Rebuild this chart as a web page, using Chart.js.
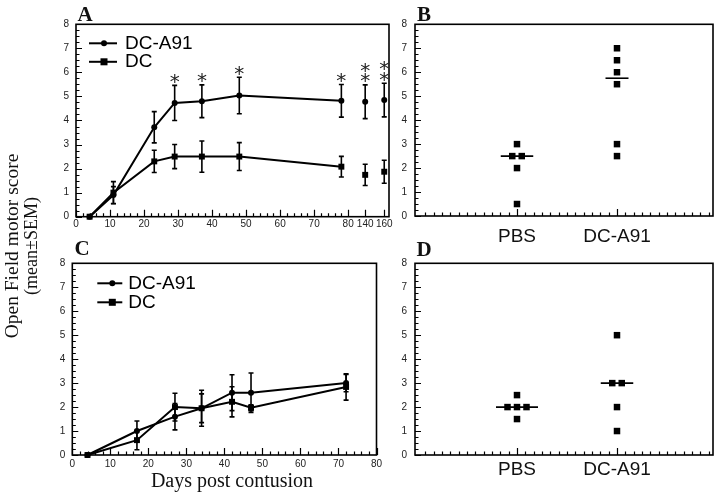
<!DOCTYPE html>
<html><head><meta charset="utf-8">
<script src="https://cdn.jsdelivr.net/npm/chart.js@4/dist/chart.umd.min.js"></script>
<style>
html,body{margin:0;padding:0;background:#fff;}
#wrap{position:relative;width:720px;height:496px;overflow:hidden;background:#fff;}
canvas{position:absolute;left:0;top:0;}
</style></head><body>
<div id="wrap">
<canvas id="cA" width="720" height="496"></canvas>
<canvas id="cB" width="720" height="496"></canvas>
<canvas id="cC" width="720" height="496"></canvas>
<canvas id="cD" width="720" height="496"></canvas>
</div>
<script>
// ---------------- data ----------------
const seriesNames = ["DC-A91", "DC"];

// Panel A
const daysA = [4, 11, 23, 29, 37, 48, 78, 140, 160];
const dcA91A = [0, 0.9, 3.72, 4.73, 4.8, 5.04, 4.82, 4.78, 4.85];
const dcA91AErr = [0, 0.35, 0.65, 0.73, 0.68, 0.76, 0.68, 0.7, 0.7];
const dcA = [0, 1.0, 2.3, 2.5, 2.5, 2.5, 2.08, 1.74, 1.87];
const dcAErr = [0, 0.46, 0.46, 0.5, 0.65, 0.58, 0.43, 0.44, 0.48];
const starsA = [0, 0, 0, 1, 1, 1, 1, 2, 2];
const xTickLabelsA = [0, 10, 20, 30, 40, 50, 60, 70, 80, 140, 160];

// Panel C
const daysC = [4, 17, 27, 34, 42, 47, 72];
const dcA91C = [0, 1.0, 1.6, 1.95, 2.6, 2.6, 3.0];
const dcA91CErr = [0, 0.42, 0.55, 0.6, 0.75, 0.82, 0.36];
const dcC = [0, 0.62, 2.0, 1.95, 2.22, 1.97, 2.84];
const dcCErr = [0, 0.4, 0.58, 0.75, 0.63, 0.12, 0.55];
const xTickLabelsC = [0, 10, 20, 30, 40, 50, 60, 70, 80];

// Panels B and D (individual animals)
const groups = ["PBS", "DC-A91"];
const pbsB = [3.0, 2.5, 2.5, 2.0, 0.5];
const dcA91B = [7.0, 6.5, 6.0, 5.5, 3.0, 2.5];
const pbsD = [2.5, 2.0, 2.0, 2.0, 1.5];
const dcA91D = [5.0, 3.0, 3.0, 2.0, 1.0];

const yTickLabels = [0, 1, 2, 3, 4, 5, 6, 7, 8];

// ---------------- helpers ----------------
// broken x axis in panel A: days after 80 are drawn compressed after the break
const BREAK_A = {140: 85, 160: 90.6};
function axisPosA(d) { return d <= 80 ? d : BREAK_A[d]; }

function median(arr) {
  const s = arr.slice().sort((a, b) => a - b);
  const n = s.length;
  return n % 2 ? s[(n - 1) / 2] : (s[n / 2 - 1] + s[n / 2]) / 2;
}
const DOT_SPACING = 0.095;
function dotPlot(values, g) {
  const counts = {}, seen = {};
  values.forEach(v => counts[v] = (counts[v] || 0) + 1);
  return values.map(v => {
    const k = seen[v] || 0; seen[v] = k + 1;
    return {x: g + (k - (counts[v] - 1) / 2) * DOT_SPACING, y: v};
  });
}
function maxOffset(values) {
  const counts = {};
  values.forEach(v => counts[v] = (counts[v] || 0) + 1);
  return Math.max(...Object.values(counts).map(c => (c - 1) / 2 * DOT_SPACING));
}

const TICK_FONT = {family: '"Liberation Sans", Arial, sans-serif', size: 10};
const SANS = '"Liberation Sans", Arial, sans-serif';
const SERIF = '"Liberation Serif", "Times New Roman", serif';

// ---------------- plugin: error bars, frame, inward ticks, legend, stars, texts ----------------
const decor = {
  id: 'decor',
  beforeDatasetsDraw(chart, args, o) {
    const ctx = chart.ctx, ys = chart.scales.y;
    chart.data.datasets.forEach((ds, di) => {
      if (!ds.err) return;
      const meta = chart.getDatasetMeta(di);
      ctx.save();
      ctx.strokeStyle = '#000'; ctx.lineWidth = 1.6;
      meta.data.forEach((pt, i) => {
        const e = ds.err[i]; if (!e) return;
        const v = ds.data[i].y;
        const y1 = ys.getPixelForValue(v + e), y2 = ys.getPixelForValue(v - e);
        ctx.beginPath();
        ctx.moveTo(pt.x, y1); ctx.lineTo(pt.x, y2);
        ctx.moveTo(pt.x - 2.5, y1); ctx.lineTo(pt.x + 2.5, y1);
        ctx.moveTo(pt.x - 2.5, y2); ctx.lineTo(pt.x + 2.5, y2);
        ctx.stroke();
      });
      ctx.restore();
    });
  },
  afterDraw(chart, args, o) {
    const ctx = chart.ctx, ca = chart.chartArea;
    const xs = chart.scales.x, ys = chart.scales.y;
    ctx.save();
    ctx.strokeStyle = '#000';
    // inward ticks
    ctx.lineWidth = 1.2;
    ctx.beginPath();
    (o.xTicks || []).forEach(t => {
      const px = Math.round(xs.getPixelForValue(t.v)) + 0.5;
      ctx.moveTo(px, ca.bottom); ctx.lineTo(px, ca.bottom - t.len);
    });
    (o.yTicks || []).forEach(t => {
      const py = Math.round(ys.getPixelForValue(t.v)) + 0.5;
      ctx.moveTo(ca.left, py); ctx.lineTo(ca.left + t.len, py);
    });
    ctx.stroke();
    // frame
    ctx.lineWidth = 1.6;
    ctx.strokeRect(ca.left, ca.top, ca.right - ca.left, ca.bottom - ca.top);
    // legend
    if (o.legend) {
      const L = o.legend;
      chart.data.datasets.slice(0, 2).forEach((ds, i) => {
        const y = ca.top + L.y[i];
        ctx.lineWidth = 2;
        ctx.beginPath();
        ctx.moveTo(ca.left + L.x0, y); ctx.lineTo(ca.left + L.x1, y); ctx.stroke();
        const xm = ca.left + L.xm;
        ctx.fillStyle = '#000';
        if (ds.pointStyle === 'circle') {
          ctx.beginPath(); ctx.arc(xm, y, 3, 0, Math.PI * 2); ctx.fill();
        } else {
          ctx.fillRect(xm - 3.5, y - 3.5, 7, 7);
        }
        ctx.font = L.font; ctx.textBaseline = 'middle'; ctx.textAlign = 'left';
        ctx.fillText(ds.label, ca.left + L.tx, y);
      });
    }
    // significance stars
    if (o.stars) {
      const S = o.stars, ds = chart.data.datasets[S.dataset];
      const meta = chart.getDatasetMeta(S.dataset);
      ctx.font = S.font; ctx.fillStyle = '#222'; ctx.textAlign = 'center'; ctx.textBaseline = 'alphabetic';
      const m = ctx.measureText('*');
      const off = (m.actualBoundingBoxAscent - m.actualBoundingBoxDescent) / 2;
      S.counts.forEach((n, i) => {
        const top = ys.getPixelForValue(ds.data[i].y + ds.err[i]);
        for (let k = 0; k < n; k++) {
          ctx.fillText('*', meta.data[i].x, top - S.gap - k * S.step + off);
        }
      });
    }
    // figure-level texts
    (o.texts || []).forEach(t => {
      ctx.save();
      ctx.font = t.font; ctx.fillStyle = '#111';
      ctx.textAlign = 'center'; ctx.textBaseline = 'alphabetic';
      ctx.translate(t.x, t.y);
      if (t.rot) ctx.rotate(t.rot);
      ctx.fillText(t.text, 0, 0);
      ctx.restore();
    });
    ctx.restore();
  }
};

function dayTicks(maxDay, extra) {
  const t = [];
  for (let d = 0; d <= maxDay; d += 2) t.push({v: d, len: d % 10 === 0 ? 7 : 3.5});
  (extra || []).forEach(v => t.push({v: v, len: 7}));
  return t;
}
function yMarks() {
  const t = [];
  for (let v = 0; v <= 8.001; v += 0.25) t.push({v: v, len: Math.abs(v - Math.round(v)) < 1e-6 ? 6 : 3.5});
  return t;
}
function groupTicks(min, max) {
  const t = [];
  for (let k = -24; k <= 36; k++) {
    const v = 1 + k / 12;
    if (v > min + 0.02 && v < max - 0.01) t.push({v: v, len: k % 12 === 0 ? 7 : 3.5});
  }
  return t;
}

function yScale(pad) {
  return {
    type: 'linear', min: 0, max: 8,
    afterFit: s => { s.width = 30; },
    afterBuildTicks: s => { s.ticks = yTickLabels.map(v => ({value: v})); },
    ticks: {font: TICK_FONT, color: '#222', padding: pad, autoSkip: false},
    grid: {display: false, drawTicks: false},
    border: {display: false}
  };
}

function panelLayout(L, R, T, B, xH) {
  return {padding: {left: L - 30, right: 720 - R, top: T, bottom: 496 - B - xH}};
}

const common = {
  responsive: false, animation: false, devicePixelRatio: 1, events: [],
};

// ---------------- Panel A ----------------
const lineDs = (label, days, vals, errs, style, r, posFn) => ({
  label: label,
  data: days.map((d, i) => ({x: posFn(d), y: vals[i]})),
  err: errs,
  pointStyle: style, pointRadius: r, pointHoverRadius: r,
  borderColor: '#000', backgroundColor: '#000', borderWidth: 2,
  pointBorderWidth: 0,
  clip: false,
  segment: {borderColor: c => c.p1.parsed.x > 80 ? 'rgba(0,0,0,0)' : undefined}
});

new Chart(document.getElementById('cA'), {
  type: 'line',
  data: {datasets: [
    lineDs(seriesNames[0], daysA, dcA91A, dcA91AErr, 'circle', 3, axisPosA),
    lineDs(seriesNames[1], daysA, dcA, dcAErr, 'rect', 4.2, axisPosA)
  ]},
  options: Object.assign({}, common, {
    layout: panelLayout(76, 389, 24.3, 216.7, 30),
    plugins: {
      legend: {display: false}, tooltip: {enabled: false},
      decor: {
        xTicks: dayTicks(80, [axisPosA(140), axisPosA(160)]),
        yTicks: yMarks(),
        legend: {x0: 13, x1: 41, xm: 28, tx: 49, y: [19, 37.5], font: '19px ' + SANS},
        stars: {dataset: 0, counts: starsA, gap: 7, step: 10.5, font: '20px "DejaVu Sans", sans-serif'},
        texts: [
          {text: 'A', x: 85, y: 20.5, font: 'bold 21px ' + SERIF},
          {text: 'B', x: 424, y: 20.5, font: 'bold 21px ' + SERIF},
          {text: 'C', x: 82, y: 255, font: 'bold 21px ' + SERIF},
          {text: 'D', x: 424, y: 256, font: 'bold 21px ' + SERIF},
          {text: 'Days post contusion', x: 232, y: 487, font: '20px ' + SERIF},
          {text: 'Open Field motor score', x: 18, y: 246, rot: -Math.PI / 2, font: '19.5px ' + SERIF},
          {text: '(mean\u00B1SEM)', x: 37, y: 246, rot: -Math.PI / 2, font: '18px ' + SERIF}
        ]
      }
    },
    scales: {
      x: {
        type: 'linear', min: 0, max: 92,
        afterFit: s => { s.height = 30; },
        afterBuildTicks: s => { s.ticks = xTickLabelsA.map(d => ({value: axisPosA(d)})); },
        ticks: {font: TICK_FONT, color: '#222', padding: 2, autoSkip: false, maxRotation: 0,
                callback: (v, i) => String(xTickLabelsA[i])},
        grid: {display: false, drawTicks: false}, border: {display: false}
      },
      y: yScale(7)
    }
  }),
  plugins: [decor]
});

// ---------------- Panel C ----------------
new Chart(document.getElementById('cC'), {
  type: 'line',
  data: {datasets: [
    lineDs(seriesNames[0], daysC, dcA91C, dcA91CErr, 'circle', 3, d => d),
    lineDs(seriesNames[1], daysC, dcC, dcCErr, 'rect', 4.2, d => d)
  ]},
  options: Object.assign({}, common, {
    layout: panelLayout(72.3, 376.5, 263.3, 455, 30),
    plugins: {
      legend: {display: false}, tooltip: {enabled: false},
      decor: {
        xTicks: dayTicks(80),
        yTicks: yMarks(),
        legend: {x0: 25, x1: 50, xm: 40, tx: 56, y: [20, 39], font: '19px ' + SANS}
      }
    },
    scales: {
      x: {
        type: 'linear', min: 0, max: 80,
        afterFit: s => { s.height = 30; },
        afterBuildTicks: s => { s.ticks = xTickLabelsC.map(d => ({value: d})); },
        ticks: {font: TICK_FONT, color: '#222', padding: 3, autoSkip: false, maxRotation: 0,
                callback: (v, i) => String(xTickLabelsC[i])},
        grid: {display: false, drawTicks: false}, border: {display: false}
      },
      y: yScale(7)
    }
  }),
  plugins: [decor]
});

// ---------------- Panels B and D ----------------
function dotChart(id, pbs, dc, T, B, labelPad) {
  const XMIN = -0.02, XMAX = 2.96;
  const sets = [pbs, dc];
  const datasets = [];
  sets.forEach((vals, gi) => {
    const g = gi + 1;
    datasets.push({
      type: 'scatter', label: groups[gi],
      data: dotPlot(vals, g),
      pointStyle: 'rect', pointRadius: 4.6, pointHoverRadius: 4.6,
      backgroundColor: '#000', borderColor: '#000', pointBorderWidth: 0,
      showLine: false, clip: false
    });
    const med = median(vals), hw = maxOffset(vals) + 0.115;
    datasets.push({
      type: 'line', label: groups[gi] + ' median',
      data: [{x: g - hw, y: med}, {x: g + hw, y: med}],
      borderColor: '#000', borderWidth: 1.6, pointRadius: 0, clip: false
    });
  });
  new Chart(document.getElementById(id), {
    type: 'scatter',
    data: {datasets: datasets},
    options: Object.assign({}, common, {
      layout: panelLayout(415, 713, T, B, 36),
      plugins: {
        legend: {display: false}, tooltip: {enabled: false},
        decor: {xTicks: groupTicks(XMIN, XMAX), yTicks: yMarks()}
      },
      scales: {
        x: {
          type: 'linear', min: XMIN, max: XMAX,
          afterFit: s => { s.height = 36; },
          afterBuildTicks: s => { s.ticks = groups.map((g, i) => ({value: i + 1})); },
          ticks: {font: {family: SANS, size: 19}, color: '#111', padding: labelPad, autoSkip: false, maxRotation: 0,
                  callback: (v, i) => groups[i]},
          grid: {display: false, drawTicks: false}, border: {display: false}
        },
        y: yScale(8)
      }
    }),
    plugins: [decor]
  });
}
dotChart('cB', pbsB, dcA91B, 24.3, 216, 9);
dotChart('cD', pbsD, dcA91D, 263.3, 455, 3);
</script>
</body></html>
